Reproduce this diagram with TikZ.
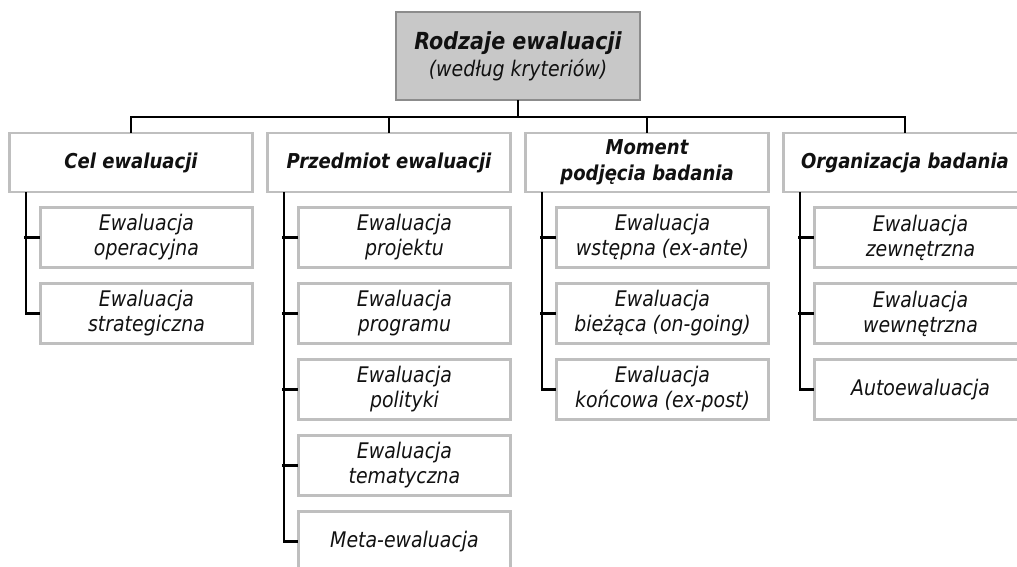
\documentclass[tikz,border=0pt]{standalone}
\usepackage{fontspec}
\setmainfont{DejaVu Sans}[FakeStretch=0.88]
\definecolor{boxline}{RGB}{191,191,191}
\definecolor{rootfill}{RGB}{200,200,200}
\definecolor{rootline}{RGB}{140,140,140}
\definecolor{txt}{RGB}{17,17,17}
\tikzset{
  rootbox/.style={draw=rootline, fill=rootfill, line width=2.5pt, text=txt,
    minimum width=244pt, minimum height=88pt, align=center, inner sep=0pt,
    font=\itshape},
  headbox/.style={draw=boxline, fill=white, line width=2.5pt, text=txt,
    minimum width=243pt, minimum height=59pt, align=center, inner sep=0pt,
    font=\fontsize{20.5}{26}\selectfont\bfseries\itshape},
  itembox/.style={draw=boxline, fill=white, line width=2.5pt, text=txt,
    minimum width=212pt, minimum height=60pt, align=center, inner sep=0pt,
    font=\fontsize{21.5}{25}\selectfont\itshape},
  link/.style={line width=2.4pt, line cap=rect}
}
\begin{document}
\begin{tikzpicture}[x=1pt,y=-1pt]
  \useasboundingbox (0,0) rectangle (1017,567);
  \clip (0,0) rectangle (1017,567);
  % root
  \node[rootbox] (root) at (518,56)
    {{\fontsize{23.5}{27}\selectfont\bfseries Rodzaje ewaluacji}\\[4pt]
     {\fontsize{21.5}{25}\selectfont (według kryteriów)}};
  % criteria
  \node[headbox] (cel)   at (131,162.5) {Cel ewaluacji};
  \node[headbox] (przed) at (389,162.5) {Przedmiot ewaluacji};
  \node[headbox] (mom)   at (647,162.5) {Moment\\podjęcia badania};
  \node[headbox] (org)   at (905,162.5) {Organizacja badania};
  % kinds
  \node[itembox] (cel1) at (146.5,237.5) {Ewaluacja\\operacyjna};
  \node[itembox] (cel2) at (146.5,313.5) {Ewaluacja\\strategiczna};
  \node[itembox] (przed1) at (404.5,237.5) {Ewaluacja\\projektu};
  \node[itembox] (przed2) at (404.5,313.5) {Ewaluacja\\programu};
  \node[itembox] (przed3) at (404.5,389.5) {Ewaluacja\\polityki};
  \node[itembox] (przed4) at (404.5,465.5) {Ewaluacja\\tematyczna};
  \node[itembox] (przed5) at (404.5,541.5) {Meta-ewaluacja};
  \node[itembox] (mom1) at (662.5,237.5) {Ewaluacja\\wstępna (ex-ante)};
  \node[itembox] (mom2) at (662.5,313.5) {Ewaluacja\\bieżąca (on-going)};
  \node[itembox] (mom3) at (662.5,389.5) {Ewaluacja\\końcowa (ex-post)};
  \node[itembox] (org1) at (920.5,237.5) {Ewaluacja\\zewnętrzna};
  \node[itembox] (org2) at (920.5,313.5) {Ewaluacja\\wewnętrzna};
  \node[itembox] (org3) at (920.5,389.5) {Autoewaluacja};
  % bus
  \coordinate (bus) at (518,117);
  \draw[link] (root.south) -- (root.south |- bus);
  \draw[link] (cel.north) |- (bus) -| (org.north);
  \draw[link] (przed.north) -- (przed.north |- bus);
  \draw[link] (mom.north) -- (mom.north |- bus);
  % trunks
  \draw[link] ([xshift=-105pt]cel.south) |- (cel2.west);
  \draw[link] (cel1.west) -- ++(-14.5,0);
  \draw[link] ([xshift=-105pt]przed.south) |- (przed5.west);
  \draw[link] (przed1.west) -- ++(-14.5,0);
  \draw[link] (przed2.west) -- ++(-14.5,0);
  \draw[link] (przed3.west) -- ++(-14.5,0);
  \draw[link] (przed4.west) -- ++(-14.5,0);
  \draw[link] ([xshift=-105pt]mom.south) |- (mom3.west);
  \draw[link] (mom1.west) -- ++(-14.5,0);
  \draw[link] (mom2.west) -- ++(-14.5,0);
  \draw[link] ([xshift=-105pt]org.south) |- (org3.west);
  \draw[link] (org1.west) -- ++(-14.5,0);
  \draw[link] (org2.west) -- ++(-14.5,0);
\end{tikzpicture}
\end{document}
